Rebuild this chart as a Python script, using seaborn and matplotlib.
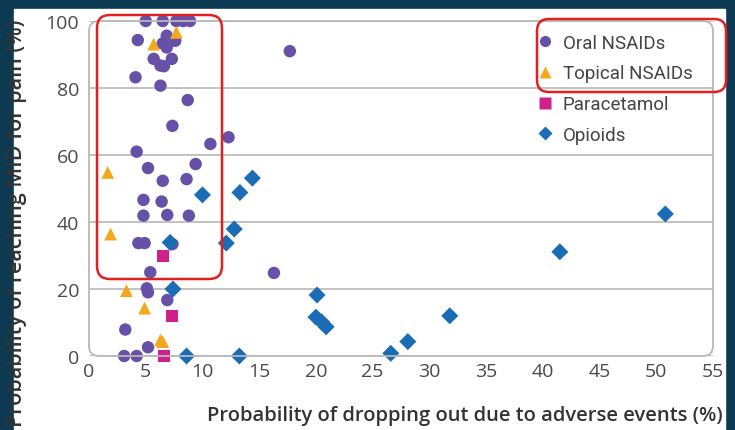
import pandas as pd
import matplotlib.pyplot as plt
import seaborn as sns
from matplotlib.patches import FancyBboxPatch, Rectangle
from matplotlib.lines import Line2D
from matplotlib.transforms import IdentityTransform

# values
oral_x = [5.0, 6.5, 7.7, 8.3, 8.9, 4.3, 6.85, 6.5, 6.85, 7.6, 5.7, 6.3, 6.6, 7.3,
          4.1, 6.3, 8.7, 7.35, 10.7, 12.3, 4.2, 5.2, 9.4, 6.5, 8.6, 4.8, 6.4, 4.8,
          6.9, 8.8, 4.35, 4.9, 7.35, 5.4, 5.1, 5.2, 6.9, 3.2, 3.1, 4.2, 5.2, 17.7, 16.3]
oral_y = [100, 100, 100, 100, 100, 94.3, 95.6, 93.3, 92.1, 94.1, 88.7, 86.7, 86.5, 88.7,
          83.2, 80.7, 76.4, 68.7, 63.3, 65.3, 61.0, 56.1, 57.3, 52.3, 52.8, 46.6, 46.1, 41.9,
          42.1, 41.9, 33.7, 33.7, 33.4, 25.0, 20.2, 19.0, 16.7, 7.9, 0, 0, 2.6, 91.0, 24.8]
topical_x = [7.7, 5.7, 1.65, 1.9, 3.3, 4.9, 6.3, 6.5]
topical_y = [96.6, 93.1, 54.8, 36.4, 19.5, 14.3, 4.8, 4.3]
para_x = [6.5, 7.35, 6.6]
para_y = [29.8, 11.9, 0]
opioid_x = [10.0, 13.3, 14.4, 12.8, 12.1, 7.15, 7.4, 8.6, 13.25, 20.1, 20.0, 20.5,
            20.9, 26.6, 28.1, 31.8, 41.5, 50.8]
opioid_y = [48.1, 48.8, 53.1, 37.9, 33.7, 33.9, 20.0, 0, 0, 18.2, 11.6, 10.2,
            8.7, 0.8, 4.3, 12.0, 31.1, 42.4]

groups = ["Oral NSAIDs", "Topical NSAIDs", "Paracetamol", "Opioids"]
colors = {"Oral NSAIDs": "#6650a8", "Topical NSAIDs": "#f5a81c",
          "Paracetamol": "#d0208a", "Opioids": "#1a6db5"}
markers = {"Oral NSAIDs": "o", "Topical NSAIDs": "^", "Paracetamol": "s", "Opioids": "D"}
sizes = {"Oral NSAIDs": 80, "Topical NSAIDs": 85, "Paracetamol": 75, "Opioids": 75}


def build_df():
    parts = []
    for g, xs, ys in zip(groups, [oral_x, topical_x, para_x, opioid_x],
                         [oral_y, topical_y, para_y, opioid_y]):
        parts.append(pd.DataFrame({"x": xs, "y": ys, "group": g}))
    return pd.concat(parts, ignore_index=True)


def main():
    df = build_df()
    sns.set_style("white")
    plt.rcParams["font.family"] = ["Open Sans", "DejaVu Sans"]

    fig = plt.figure(figsize=(7.35, 4.31), dpi=100)
    fig.patch.set_facecolor("#0b3a52")
    # white panel on the navy background
    fig.add_artist(Rectangle((14 / 735, 0), 711 / 735, 421 / 431,
                             transform=fig.transFigure, color="white", zorder=0))

    ax = fig.add_axes([89 / 735, 74 / 431, 624 / 735, 335 / 431])
    ax.set_facecolor("none")

    for g in groups:
        sub = df[df["group"] == g]
        sns.scatterplot(data=sub, x="x", y="y", color=colors[g], marker=markers[g],
                        s=sizes[g], edgecolor="none", clip_on=False, legend=False,
                        ax=ax, zorder=3)

    ax.set_xlim(0, 55)
    ax.set_ylim(0, 100)
    ax.set_xticks(range(0, 56, 5))
    ax.set_yticks(range(0, 101, 20))
    for sp in ax.spines.values():
        sp.set_visible(False)
    ax.yaxis.grid(True, color="#b8b8b8", lw=1.2)
    ax.set_axisbelow(True)
    ax.tick_params(axis="x", direction="in", length=6, width=1, color="#b8b8b8",
                   labelsize=14, labelcolor="#4a4a4a", pad=4)
    ax.tick_params(axis="y", length=0, labelsize=14, labelcolor="#4a4a4a", pad=7)

    # rounded grey frame round the plot
    fig.add_artist(FancyBboxPatch((89, 74), 624, 335, boxstyle="round,pad=0,rounding_size=10",
                                  transform=IdentityTransform(), fill=False,
                                  ec="#b8b8b8", lw=1.3, zorder=1))

    ax.set_xlabel("Probability of dropping out due to adverse events (%)",
                  fontsize=14.5, fontweight="semibold", color="#333333", ha="right")
    ax.xaxis.set_label_coords(1.015, -0.145)
    ax.set_ylabel("Probability of reaching MID for pain (%)",
                  fontsize=15.5, fontweight="semibold", color="#333333")
    ax.yaxis.set_label_coords(-0.099, 0.40)

    handles = [Line2D([], [], ls="none", marker=markers[g], color=colors[g],
                      markersize=8 if g != "Opioids" else 7.5, markeredgecolor="none")
               for g in groups]
    leg = ax.legend(handles, groups, loc="upper left", bbox_to_anchor=(0.704, 0.99),
                    frameon=False, handlelength=0.8, handletextpad=0.55,
                    labelspacing=0.68, borderpad=0,
                    prop={"family": ["Roboto", "Open Sans"], "size": 13.5})
    for t in leg.get_texts():
        t.set_color("#444444")

    # red highlight boxes
    red = "#e3201f"
    fig.add_artist(FancyBboxPatch((97, 151), 125, 264, boxstyle="round,pad=0,rounding_size=13",
                                  transform=IdentityTransform(), fill=False, ec=red, lw=1.8,
                                  zorder=5))
    fig.add_artist(FancyBboxPatch((537, 338), 189, 73, boxstyle="round,pad=0,rounding_size=12",
                                  transform=IdentityTransform(), fill=False, ec=red, lw=1.8,
                                  zorder=5))

    fig.savefig("out.png", dpi=100, facecolor=fig.get_facecolor())
    plt.close()


if __name__ == "__main__":
    main()
